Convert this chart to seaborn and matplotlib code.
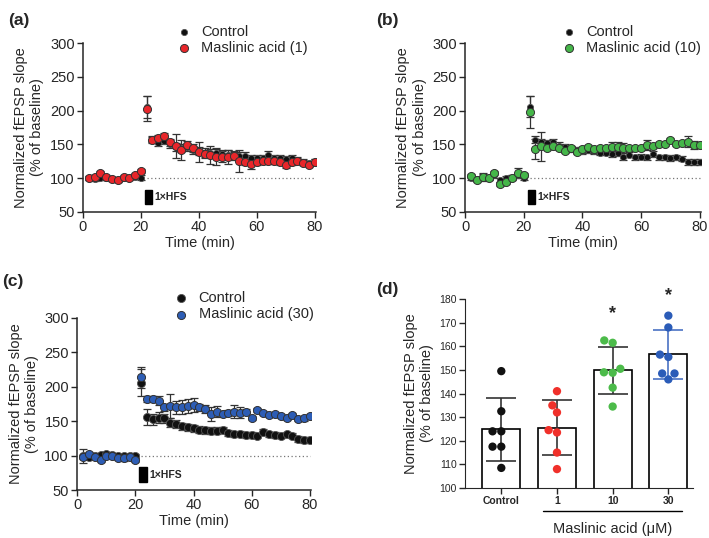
import numpy as np
import pandas as pd
import seaborn as sns
import matplotlib.pyplot as plt
from matplotlib.patches import Rectangle

# Zeitachse (min)
time = list(range(2, 82, 2))

# Panel a
ctrl_a = [100, 99, 101, 100, 99, 98, 100, 100, 102, 101, 205,
          157, 152, 155, 150, 146, 145, 146, 142, 140, 138, 137, 137, 136, 135, 134,
          133, 133, 130, 130, 130, 135, 130, 130, 128, 130, 127, 124, 122, 124]
ctrl_a_err = [3, 3, 3, 3, 3, 3, 3, 3, 3, 3, 16,
              5, 5, 5, 6, 6, 6, 6, 6, 6, 6, 6, 6, 6, 6, 6, 6, 6, 5, 5,
              5, 5, 5, 5, 5, 5, 5, 4, 4, 4]
ma1 = [100, 102, 107, 102, 99, 98, 102, 100, 105, 110, 203,
       157, 160, 163, 153, 148, 142, 149, 145, 139, 136, 134, 132, 132, 131, 133,
       125, 124, 121, 124, 125, 125, 125, 124, 119, 124, 126, 123, 120, 124]
ma1_err = [3, 3, 3, 3, 3, 3, 3, 3, 3, 3, 18,
           4, 4, 4, 5, 18, 15, 6, 6, 15, 6, 13, 13, 8, 10, 6, 16, 5, 7, 4,
           4, 4, 4, 4, 4, 4, 4, 4, 4, 4]

# Panel b
ctrl_b = [100, 99, 103, 101, 104, 98, 100, 101, 104, 101, 206,
          157, 153, 152, 153, 148, 146, 143, 142, 140, 142, 140, 138, 138, 136, 137,
          131, 135, 131, 132, 131, 136, 131, 131, 130, 131, 129, 124, 124, 124]
ctrl_b_err = [3, 3, 3, 3, 3, 3, 3, 3, 3, 3, 15,
              5, 5, 5, 5, 5, 4, 4, 4, 4, 4, 4, 4, 4, 4, 4, 4, 4, 4, 4,
              4, 4, 4, 4, 4, 4, 4, 4, 4, 4]
ma10 = [103, 98, 102, 101, 108, 91, 95, 101, 108, 105, 198,
        143, 147, 145, 147, 145, 140, 145, 139, 143, 146, 143, 144, 144, 146, 146,
        145, 144, 144, 145, 149, 148, 150, 150, 156, 151, 152, 154, 149, 149]
ma10_err = [3, 3, 6, 3, 3, 3, 3, 3, 7, 3, 23,
            15, 21, 4, 4, 4, 3, 3, 3, 3, 3, 3, 3, 3, 7, 7, 7, 3, 3, 3,
            8, 3, 3, 3, 3, 3, 3, 8, 6, 4]

# Panel c
ctrl_c = [100, 98, 100, 101, 103, 101, 100, 100, 100, 100, 206,
          156, 153, 155, 154, 148, 146, 143, 141, 140, 138, 137, 136, 136, 137, 133,
          131, 132, 130, 130, 129, 135, 131, 130, 129, 131, 129, 124, 123, 123]
ctrl_c_err = [10, 3, 3, 3, 3, 3, 3, 3, 3, 3, 20,
              12, 8, 8, 6, 6, 6, 5, 5, 5, 5, 5, 5, 5, 4, 4, 4, 4, 4, 4,
              4, 4, 4, 4, 4, 4, 4, 4, 4, 4]
ma30 = [98, 102, 98, 94, 100, 99, 97, 96, 98, 94, 214,
        182, 183, 180, 170, 172, 170, 171, 172, 174, 170, 168, 161, 164, 161, 162,
        164, 162, 164, 155, 166, 162, 159, 160, 158, 155, 159, 153, 154, 157]
ma30_err = [3, 3, 3, 3, 3, 3, 3, 3, 3, 3, 15,
            4, 4, 6, 5, 17, 10, 10, 10, 10, 5, 6, 10, 8, 4, 4, 10, 8, 4, 3,
            3, 3, 3, 3, 3, 3, 3, 3, 3, 3]

# Panel d: Einzelwerte pro Gruppe
groups = ["Control", "1", "10", "30"]
vals_ctrl = [149.5, 132.5, 124, 124, 117.5, 117.5, 108.5]
vals_1 = [141, 135, 132, 124.5, 123.5, 115, 108]
vals_10 = [162.5, 161.5, 150.5, 149, 148.8, 142.5, 134.5]
vals_30 = [173, 168, 156.5, 155.5, 148.5, 148.5, 146]
star_groups = [2, 3]
star_y = [174, 181.4]

RED = "#e8262a"
GREEN = "#45b649"
BLUE = "#2d5db5"
BLACK = "#111111"

sns.set_style("ticks")
plt.rcParams["font.family"] = ["Liberation Sans", "DejaVu Sans"]

fig = plt.figure(figsize=(7.09, 5.38), dpi=100)
ax_a = fig.add_axes([0.117, 0.606, 0.329, 0.314])
ax_b = fig.add_axes([0.656, 0.606, 0.333, 0.314])
ax_c = fig.add_axes([0.109, 0.089, 0.330, 0.320])
ax_d = fig.add_axes([0.656, 0.093, 0.322, 0.351])


def time_panel(ax, ctrl, ctrl_err, drug, drug_err, color, label, ctrl_size, leg_pos):
    ax.errorbar(time, ctrl, yerr=ctrl_err, fmt="none", ecolor="#333333",
                elinewidth=0.9, capsize=3, capthick=0.9, zorder=2)
    ax.errorbar(time, drug, yerr=drug_err, fmt="none", ecolor="#333333",
                elinewidth=0.9, capsize=3, capthick=0.9, zorder=2)
    sns.scatterplot(x=time, y=ctrl, ax=ax, color=BLACK, s=ctrl_size,
                    edgecolor="#555555", linewidth=0.6, label="Control", zorder=3)
    sns.scatterplot(x=time, y=drug, ax=ax, color=color, s=34,
                    edgecolor="#333333", linewidth=0.7, label=label, zorder=4)
    ax.plot([22, 80], [100, 100], ls=(0, (1, 2)), color="#777777", lw=0.9, zorder=1)
    ax.add_patch(Rectangle((21.3, 62), 2.6, 21, color="black", zorder=3))
    ax.text(24.8, 72.5, "1×HFS", fontsize=7.5, fontweight="bold", va="center")
    ax.set_xlim(0, 80.5)
    ax.set_ylim(50, 300)
    ax.set_xticks([0, 20, 40, 60, 80])
    ax.set_yticks([50, 100, 150, 200, 250, 300])
    ax.set_xlabel("Time (min)", fontsize=10.5, labelpad=1)
    ax.set_ylabel("Normalized fEPSP slope\n(% of baseline)", fontsize=10.5)
    ax.tick_params(labelsize=10.5, length=4, width=1, pad=2)
    for sp in ["left", "bottom"]:
        ax.spines[sp].set_linewidth(1.1)
    sns.despine(ax=ax)
    ax.legend(loc="lower right", bbox_to_anchor=leg_pos, frameon=False,
              fontsize=10.5, handletextpad=0.2, borderaxespad=0,
              labelspacing=0.15, borderpad=0)


time_panel(ax_a, ctrl_a, ctrl_a_err, ma1, ma1_err, RED, "Maslinic acid (1)", 20, (0.965, 0.93))
time_panel(ax_b, ctrl_b, ctrl_b_err, ma10, ma10_err, GREEN, "Maslinic acid (10)", 20, (1.0, 0.93))
time_panel(ax_c, ctrl_c, ctrl_c_err, ma30, ma30_err, BLUE, "Maslinic acid (30)", 34, (1.01, 0.98))

# Panel d
df = pd.DataFrame({
    "group": np.repeat(groups, 7),
    "value": vals_ctrl + vals_1 + vals_10 + vals_30,
})
sns.barplot(data=df, x="group", y="value", order=groups, errorbar=None,
            color="white", edgecolor="black", linewidth=1.2, width=0.68, ax=ax_d)
stats = df.groupby("group", sort=False)["value"].agg(["mean", "std"])
err_colors = ["#333333", "#333333", "#333333", "#4a72c4"]
for i, g in enumerate(groups):
    ax_d.errorbar(i, stats.loc[g, "mean"], yerr=stats.loc[g, "std"], fmt="none",
                  ecolor=err_colors[i], elinewidth=1.2, capsize=11, capthick=1.2, zorder=3)
sns.swarmplot(data=df, x="group", y="value", order=groups, hue="group",
              palette=[BLACK, "#f0302a", "#4cbb4a", "#2b5cb8"], size=6,
              legend=False, ax=ax_d, zorder=4)
for i, y in zip(star_groups, star_y):
    ax_d.text(i, y, "*", ha="center", va="center", fontsize=13,
              fontweight="bold", clip_on=False)
ax_d.set_ylim(100, 180)
ax_d.set_xlim(-0.65, 3.45)
ax_d.set_yticks(range(100, 181, 10))
ax_d.set_xlabel("")
ax_d.set_ylabel("Normalized fEPSP slope\n(% of baseline)", fontsize=10.5)
ax_d.tick_params(labelsize=7.5, length=4, width=1, pad=2)
for lbl in ax_d.get_xticklabels():
    lbl.set_fontweight("bold")
sns.despine(ax=ax_d)
ax_d.plot([0.75, 3.25], [-0.12, -0.12], color="black", lw=1,
          transform=ax_d.get_xaxis_transform(), clip_on=False)
ax_d.text(2.0, -0.215, "Maslinic acid (μM)", fontsize=10.5, ha="center", va="center",
          transform=ax_d.get_xaxis_transform())

# Panelbeschriftungen
for x, y, t in [(0.012, 0.975, "(a)"), (0.53, 0.975, "(b)"),
                (0.003, 0.49, "(c)"), (0.53, 0.475, "(d)")]:
    fig.text(x, y, t, fontsize=12.5, fontweight="bold", va="top")

fig.savefig("out.png", dpi=100)
